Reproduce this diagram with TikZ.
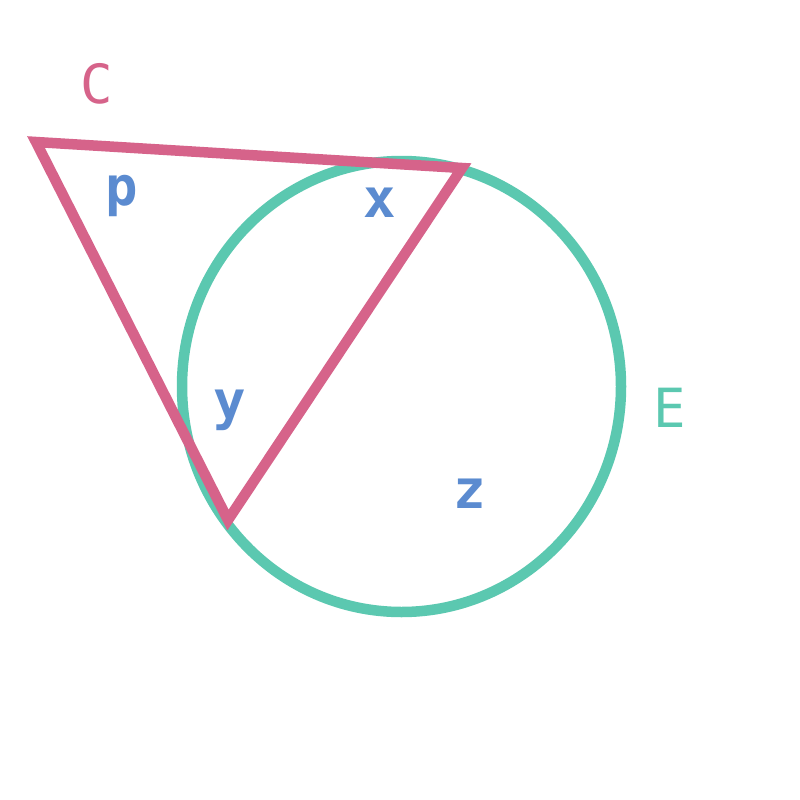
\documentclass[tikz,border=0pt]{standalone}
\usepackage{fontspec}
\setmainfont{DejaVu Sans Mono}
\definecolor{pinkc}{HTML}{D6638A}
\definecolor{greenc}{HTML}{5BC8B0}
\definecolor{bluec}{HTML}{5B8BD0}
\tikzset{
  lbl/.style={font=\fontsize{54}{60}\selectfont\bfseries, text=bluec, inner sep=0pt},
  nmlbl/.style={font=\fontsize{54}{60}\selectfont, inner sep=0pt},
}
\begin{document}
\begin{tikzpicture}[x=1pt,y=-1pt]
\useasboundingbox (0,0) rectangle (800,800);
\fill[white] (0,0) rectangle (800,800);
\coordinate (O) at (401.5,386.5);
\draw[greenc, line width=10.5pt] (O) ellipse [x radius=219.5, y radius=225.5];
\coordinate (A) at (36,142);
\coordinate (B) at (462,168);
\coordinate (D) at (228,520);
\draw[pinkc, line width=10.5pt, miter limit=20] (A) -- (B) -- (D) -- cycle;
\node[nmlbl, text=pinkc] (lc) at (97,84) {C};
\node[nmlbl, text=greenc] (le) at (670,408) {E};
\node[lbl] (lp) at (122,196) {p};
\node[lbl] (lx) at (380,203) {x};
\node[lbl] (ly) at (230,410) {y};
\node[lbl] (lz) at (470,494) {z};
\end{tikzpicture}
\end{document}
